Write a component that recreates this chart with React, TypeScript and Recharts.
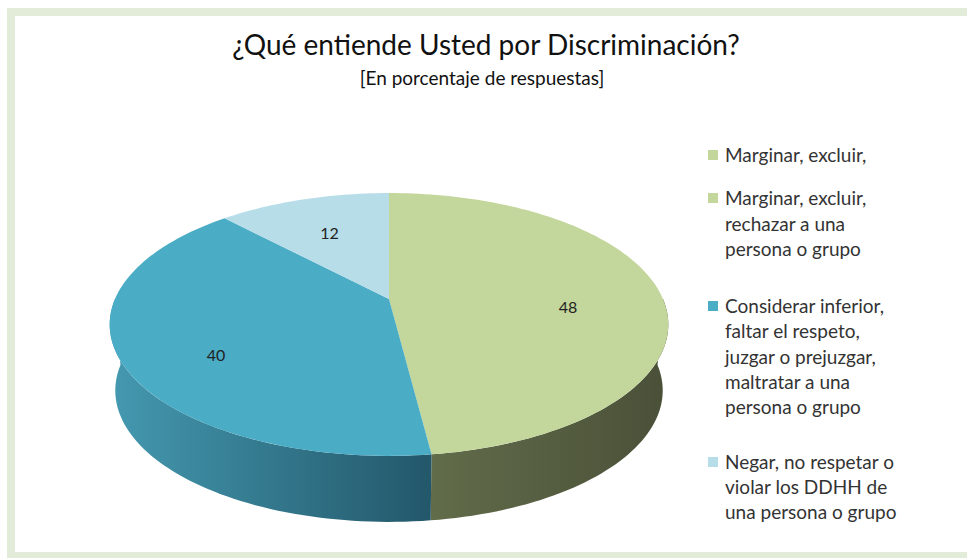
import React from 'react';
import { PieChart, Pie, Cell, Legend } from 'recharts';

const TITLE = '¿Qué entiende Usted por Discriminación?';
const SUBTITLE = '[En porcentaje de respuestas]';

const CATEGORIES = [
  'Marginar, excluir,',
  'Marginar, excluir,\nrechazar a una\npersona o grupo',
  'Considerar inferior,\nfaltar el respeto,\njuzgar o prejuzgar,\nmaltratar a una\npersona o grupo',
  'Negar, no respetar o\nviolar los DDHH de\nuna persona o grupo',
];
const VALUES = [0, 48, 40, 12];

const TOP_COLORS = ['#c3d69b', '#c3d69b', '#4bacc6', '#b7dde8'];
const WALL_COLORS = [
  ['#616c4a', '#4a5038'],
  ['#616c4a', '#4a5038'],
  ['#4499b0', '#23576a'],
  ['#8ab9c5', '#6e9eab'],
];
const LEGEND_GAPS = [18, 32, 29, 0];

const FONT = 'Lato, "Open Sans", sans-serif';

// perspective tilt of the 3D pie
const K = 0.194;
const TILT = 0.4615;
const DEPTH = 66;
const BOTTOM_SCALE = 0.98;

const project = (cx: number, cy: number, r: number, deg: number, f = 1) => {
  const a = (deg * Math.PI) / 180;
  const X = Math.cos(a) * f;
  const Z = Math.sin(a) * f;
  const w = 1 + K * Z;
  return [cx + (r * X) / w, cy - (r * TILT * Z) / w];
};

const arcPoints = (cx: number, cy: number, r: number, from: number, to: number) => {
  const pts: number[][] = [];
  const steps = Math.max(2, Math.ceil(Math.abs(to - from) / 1.5));
  for (let i = 0; i <= steps; i++) {
    pts.push(project(cx, cy, r, from + ((to - from) * i) / steps));
  }
  return pts;
};

const Slice3D = (props: any) => {
  const { cx, cy, outerRadius, startAngle, endAngle } = props;
  const idx = props.idx ?? props.payload?.idx ?? 0;
  if (Math.abs(startAngle - endAngle) < 0.01) return <g />;

  const top = arcPoints(cx, cy, outerRadius, startAngle, endAngle);
  const topPath =
    `M${cx},${cy} ` + top.map((p) => `L${p[0]},${p[1]}`).join(' ') + ' Z';

  // visible front wall: angles between -180 and 0
  const lo = Math.max(Math.min(startAngle, endAngle), -180);
  const hi = Math.min(Math.max(startAngle, endAngle), 0);
  let wallPath = '';
  if (lo < hi) {
    const rim = arcPoints(cx, cy, outerRadius, hi, lo);
    const bottom = rim
      .slice()
      .reverse()
      .map((p) => [cx + BOTTOM_SCALE * (p[0] - cx), p[1] + DEPTH]);
    wallPath =
      rim.map((p, i) => `${i === 0 ? 'M' : 'L'}${p[0]},${p[1]}`).join(' ') +
      ' ' +
      bottom.map((p) => `L${p[0]},${p[1]}`).join(' ') +
      ' Z';
  }
  const gid = `wall-grad-${idx}`;
  return (
    <g>
      <defs>
        <linearGradient id={gid} x1="0" y1="0" x2="1" y2="0">
          <stop offset="0%" stopColor={WALL_COLORS[idx][0]} />
          <stop offset="100%" stopColor={WALL_COLORS[idx][1]} />
        </linearGradient>
      </defs>
      {wallPath && <path d={wallPath} fill={`url(#${gid})`} stroke="none" />}
      <path d={topPath} fill={TOP_COLORS[idx]} stroke="none" />
    </g>
  );
};

const renderLabel = (props: any) => {
  const { cx, cy, outerRadius, midAngle, value } = props;
  if (!value) return null;
  const [x, y] = project(cx, cy, outerRadius, midAngle, 0.66);
  const z = Math.sin((midAngle * Math.PI) / 180);
  return (
    <text
      x={x}
      y={y + 13 - 11 * z}
      textAnchor="middle"
      dominantBaseline="central"
      fill="#222"
      fontSize={16}
      fontFamily={FONT}
    >
      {value}
    </text>
  );
};

const renderLegend = () => (
  <div style={{ fontFamily: FONT, fontSize: 19, color: '#333', lineHeight: '25.3px' }}>
    {CATEGORIES.map((name, i) => (
      <div key={i} style={{ display: 'flex', marginBottom: LEGEND_GAPS[i] }}>
        <div
          style={{
            width: 10,
            height: 10,
            background: TOP_COLORS[i],
            marginTop: 8,
            marginRight: 7,
            flex: 'none',
          }}
        />
        <div style={{ whiteSpace: 'pre-line' }}>{name}</div>
      </div>
    ))}
  </div>
);

const data = VALUES.map((value, i) => ({ name: CATEGORIES[i], value, idx: i }));

export default function App() {
  return (
    <div style={{ position: 'absolute', left: 0, top: 0, width: 967, height: 558, background: '#fff', overflow: 'hidden' }}>
      <style>{`body{margin:0}`}</style>
      <div
        style={{
          position: 'absolute',
          left: 7,
          top: 8,
          width: 980,
          height: 552,
          boxSizing: 'border-box',
          borderLeft: '8px solid #e3ecd9',
          borderTop: '8px solid #e3ecd9',
          borderBottom: '8px solid #e3ecd9',
        }}
      />
      <div
        style={{
          position: 'absolute',
          left: 0,
          top: 27,
          width: 972,
          textAlign: 'center',
          fontFamily: FONT,
          fontSize: 28,
          lineHeight: '34px',
          color: '#111',
        }}
      >
        {TITLE}
      </div>
      <div
        style={{
          position: 'absolute',
          left: 0,
          top: 66,
          width: 964,
          textAlign: 'center',
          fontFamily: FONT,
          fontSize: 19,
          lineHeight: '24px',
          color: '#111',
        }}
      >
        {SUBTITLE}
      </div>
      <div style={{ position: 'absolute', left: 0, top: 0 }}>
        <PieChart width={967} height={558} margin={{ top: 0, right: 0, bottom: 0, left: 0 }}>
          <Pie
            data={data}
            dataKey="value"
            nameKey="name"
            cx={389}
            cy={299}
            outerRadius={274}
            startAngle={90}
            endAngle={-270}
            stroke="none"
            shape={(p: any) => <Slice3D {...p} />}
            label={renderLabel}
            labelLine={false}
            isAnimationActive={false}
          >
            {data.map((d, i) => (
              <Cell key={`cell-${i}`} fill={TOP_COLORS[i]} />
            ))}
          </Pie>
          <Legend
            layout="vertical"
            verticalAlign="top"
            align="right"
            content={renderLegend}
            wrapperStyle={{ left: 708, top: 142, width: 250, right: 'auto', bottom: 'auto' }}
          />
        </PieChart>
      </div>
    </div>
  );
}
